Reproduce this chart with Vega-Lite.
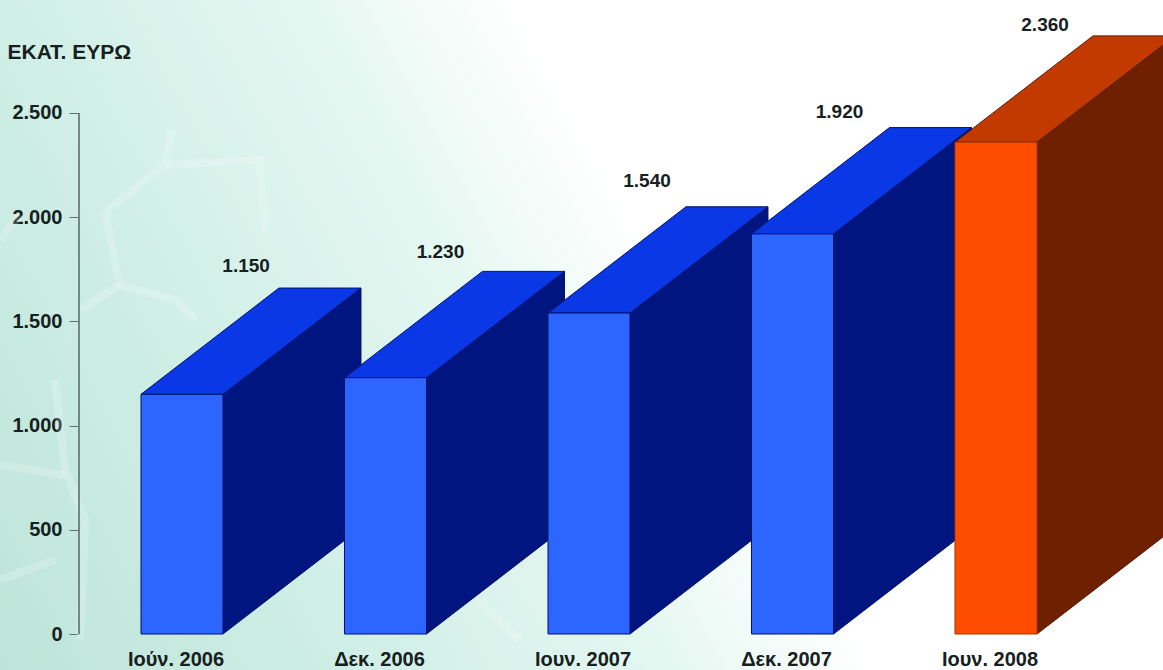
{
  "$schema": "https://vega.github.io/schema/vega-lite/v6.json",
  "autosize": {"type": "none"},
  "padding": 0,
  "width": 1163,
  "height": 670,
  "background": "#ffffff",
  "view": {
    "stroke": null,
    "fill": {
      "gradient": "linear",
      "x1": 0, "y1": 1, "x2": 0.8, "y2": 0.75,
      "stops": [
        {"offset": 0, "color": "#bde4d8"},
        {"offset": 0.36, "color": "#d0efe6"},
        {"offset": 0.65, "color": "#e4f7f1"},
        {"offset": 0.86, "color": "#ffffff"},
        {"offset": 1, "color": "#ffffff"}
      ]
    }
  },
  "params": [
    {"name": "faceW", "value": 0.403},
    {"name": "depthX", "value": 0.678},
    {"name": "depthY", "value": 510}
  ],
  "datasets": {
    "bars": [
      {"period": "Ιούν. 2006", "slot": 0, "value": 1150, "current": false, "labelShift": 0.315, "labelLevel": 1766},
      {"period": "Δεκ. 2006", "slot": 1, "value": 1230, "current": false, "labelShift": 0.27, "labelLevel": 1833},
      {"period": "Ιουν. 2007", "slot": 2, "value": 1540, "current": false, "labelShift": 0.285, "labelLevel": 2174},
      {"period": "Δεκ. 2007", "slot": 3, "value": 1920, "current": false, "labelShift": 0.231, "labelLevel": 2505},
      {"period": "Ιουν. 2008", "slot": 4, "value": 2360, "current": true, "labelShift": 0.241, "labelLevel": 2922}
    ],
    "molecule": [
      {"strand": "a", "order": 0, "sx": -0.378, "level": 2025},
      {"strand": "a", "order": 1, "sx": -0.305, "level": 1675},
      {"strand": "a", "order": 2, "sx": -0.034, "level": 1603},
      {"strand": "a", "order": 3, "sx": 0.064, "level": 1507},
      {"strand": "b", "order": 0, "sx": -0.378, "level": 2025},
      {"strand": "b", "order": 1, "sx": -0.084, "level": 2250},
      {"strand": "b", "order": 2, "sx": -0.049, "level": 2418},
      {"strand": "c", "order": 0, "sx": -0.305, "level": 1675},
      {"strand": "c", "order": 1, "sx": -0.501, "level": 1555},
      {"strand": "d", "order": 0, "sx": -0.894, "level": 1890},
      {"strand": "d", "order": 1, "sx": -0.796, "level": 2010},
      {"strand": "e", "order": 0, "sx": -0.084, "level": 2250},
      {"strand": "e", "order": 1, "sx": 0.383, "level": 2274},
      {"strand": "e", "order": 2, "sx": 0.408, "level": 1938},
      {"strand": "f", "order": 0, "sx": -0.624, "level": 1219},
      {"strand": "f", "order": 1, "sx": -0.575, "level": 787},
      {"strand": "f", "order": 2, "sx": -0.477, "level": 547},
      {"strand": "f", "order": 3, "sx": -0.501, "level": -29},
      {"strand": "g", "order": 0, "sx": -0.894, "level": 811},
      {"strand": "g", "order": 1, "sx": -0.575, "level": 763},
      {"strand": "h", "order": 0, "sx": -0.894, "level": 259},
      {"strand": "h", "order": 1, "sx": -0.624, "level": 355},
      {"strand": "i", "order": 0, "sx": 1.44, "level": 163},
      {"strand": "i", "order": 1, "sx": 1.66, "level": -29}
    ]
  },
  "resolve": {"axis": {"y": "independent"}},
  "layer": [
    {
      "description": "Faint molecule drawing behind the chart",
      "data": {"name": "molecule"},
      "mark": {"type": "line", "stroke": "#ffffff", "strokeOpacity": 0.2, "strokeWidth": 8, "interpolate": "linear"},
      "encoding": {
        "x": {"field": "sx", "type": "quantitative", "scale": {"domain": [-0.8943, 4.8206], "nice": false, "zero": false}, "axis": null},
        "y": {
          "field": "level", "type": "quantitative",
          "scale": {"domain": [-172.7, 3042.2], "nice": false, "zero": false},
          "axis": {
            "values": [0, 500, 1000, 1500, 2000, 2500],
            "offset": -78,
            "domain": false,
            "grid": false,
            "tickSize": 9,
            "tickWidth": 1,
            "tickColor": "#5f6f6b",
            "labelPadding": 7,
            "labelFont": "Liberation Sans",
            "labelFontWeight": "bold",
            "labelFontSize": 20,
            "labelColor": "#172020",
            "labelExpr": "replace(format(datum.value, ','), ',', '.')",
            "title": "ΕΚΑΤ. ΕΥΡΩ",
            "titleFont": "Liberation Sans",
            "titleFontWeight": "bold",
            "titleFontSize": 21,
            "titleColor": "#172020",
            "titleAngle": 0,
            "titleAlign": "left",
            "titleBaseline": "middle",
            "titleX": -71,
            "titleY": 52
          }
        },
        "detail": {"field": "strand"},
        "order": {"field": "order"}
      }
    },
    {
      "description": "Vertical axis line from 0 to 2.500",
      "data": {"values": [{"from": 0, "to": 2500}]},
      "mark": {"type": "rule", "stroke": "#5f6f6b", "strokeWidth": 1.6},
      "encoding": {
        "x": {"datum": -0.506, "type": "quantitative", "scale": {"domain": [-0.8943, 4.8206], "nice": false, "zero": false}, "axis": null},
        "y": {"field": "from", "type": "quantitative", "scale": {"domain": [-172.7, 3042.2], "nice": false, "zero": false}, "axis": null},
        "y2": {"field": "to"}
      }
    },
    {
      "description": "Side faces, receding up and to the right",
      "data": {"name": "bars"},
      "transform": [
        {"calculate": "[0, 1]", "as": "t"},
        {"flatten": ["t"]},
        {"calculate": "datum.slot + faceW / 2 + datum.t * depthX", "as": "sx"},
        {"calculate": "datum.value + datum.t * depthY", "as": "upper"},
        {"calculate": "datum.t * depthY", "as": "lower"}
      ],
      "mark": {"type": "area", "orient": "vertical", "strokeWidth": 1},
      "encoding": {
        "x": {"field": "sx", "type": "quantitative", "scale": {"domain": [-0.8943, 4.8206], "nice": false, "zero": false}, "axis": null},
        "y": {"field": "upper", "type": "quantitative", "scale": {"domain": [-172.7, 3042.2], "nice": false, "zero": false}, "axis": null},
        "y2": {"field": "lower"},
        "detail": {"field": "period"},
        "fill": {"condition": {"test": "datum.current", "value": "#6e2000"}, "value": "#00157f"},
        "stroke": {"condition": {"test": "datum.current", "value": "#5a1a00"}, "value": "#00126e"}
      }
    },
    {
      "description": "Top faces, a parallelogram spanned by the front width and the depth",
      "data": {"name": "bars"},
      "transform": [
        {"calculate": "[0, faceW, depthX, depthX + faceW]", "as": "u"},
        {"flatten": ["u"]},
        {"calculate": "datum.slot - faceW / 2 + datum.u", "as": "sx"},
        {"calculate": "datum.value + depthY * min(datum.u, depthX) / depthX", "as": "upper"},
        {"calculate": "datum.value + depthY * max(datum.u - faceW, 0) / depthX", "as": "lower"}
      ],
      "mark": {"type": "area", "orient": "vertical", "strokeWidth": 1},
      "encoding": {
        "x": {"field": "sx", "type": "quantitative", "scale": {"domain": [-0.8943, 4.8206], "nice": false, "zero": false}, "axis": null},
        "y": {"field": "upper", "type": "quantitative", "scale": {"domain": [-172.7, 3042.2], "nice": false, "zero": false}, "axis": null},
        "y2": {"field": "lower"},
        "detail": {"field": "period"},
        "fill": {"condition": {"test": "datum.current", "value": "#c23a00"}, "value": "#0a38e6"},
        "stroke": {"condition": {"test": "datum.current", "value": "#5a1a00"}, "value": "#00126e"}
      }
    },
    {
      "description": "Front faces, drawn straight from each value",
      "data": {"name": "bars"},
      "transform": [
        {"calculate": "datum.slot - faceW / 2", "as": "left"},
        {"calculate": "datum.slot + faceW / 2", "as": "right"}
      ],
      "mark": {"type": "rect", "strokeWidth": 1},
      "encoding": {
        "x": {"field": "left", "type": "quantitative", "scale": {"domain": [-0.8943, 4.8206], "nice": false, "zero": false}, "axis": null},
        "x2": {"field": "right"},
        "y": {"field": "value", "type": "quantitative", "scale": {"domain": [-172.7, 3042.2], "nice": false, "zero": false}, "axis": null},
        "y2": {"datum": 0},
        "fill": {"condition": {"test": "datum.current", "value": "#ff4d00"}, "value": "#2c65ff"},
        "stroke": {"condition": {"test": "datum.current", "value": "#a83400"}, "value": "#00126e"}
      }
    },
    {
      "description": "Value labels above each block",
      "data": {"name": "bars"},
      "transform": [
        {"calculate": "datum.slot + datum.labelShift", "as": "sx"},
        {"calculate": "replace(format(datum.value, ','), ',', '.')", "as": "valueText"}
      ],
      "mark": {"type": "text", "font": "Liberation Sans", "fontWeight": "bold", "fontSize": 19, "fill": "#172020", "align": "center", "baseline": "middle"},
      "encoding": {
        "x": {"field": "sx", "type": "quantitative", "scale": {"domain": [-0.8943, 4.8206], "nice": false, "zero": false}, "axis": null},
        "y": {"field": "labelLevel", "type": "quantitative", "scale": {"domain": [-172.7, 3042.2], "nice": false, "zero": false}, "axis": null},
        "text": {"field": "valueText"}
      }
    },
    {
      "description": "Period names under each block",
      "data": {"name": "bars"},
      "mark": {"type": "text", "font": "Liberation Sans", "fontWeight": "bold", "fontSize": 20, "fill": "#172020", "align": "center", "baseline": "middle", "dx": -6},
      "encoding": {
        "x": {"field": "slot", "type": "quantitative", "scale": {"domain": [-0.8943, 4.8206], "nice": false, "zero": false}, "axis": null},
        "y": {"datum": -127, "type": "quantitative", "scale": {"domain": [-172.7, 3042.2], "nice": false, "zero": false}, "axis": null},
        "text": {"field": "period"}
      }
    }
  ]
}
